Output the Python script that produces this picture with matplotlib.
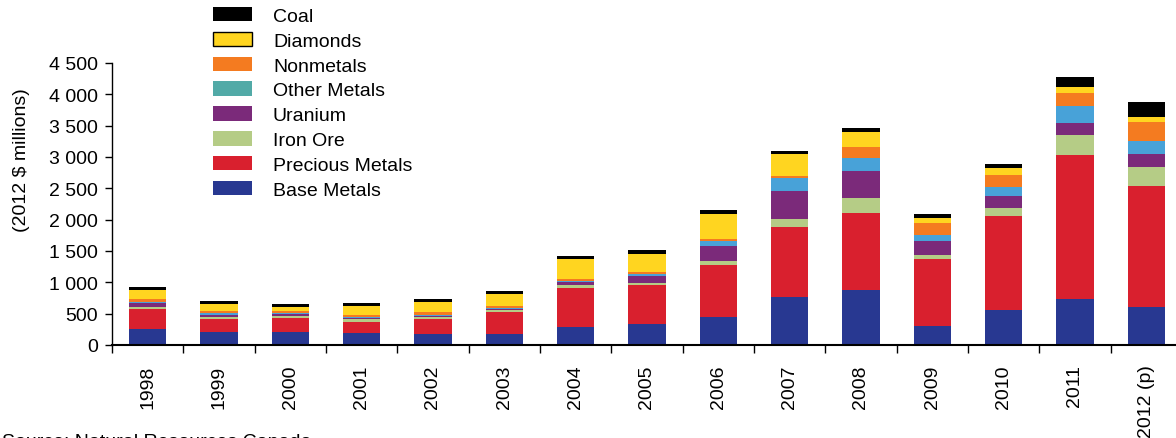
import numpy as np
import matplotlib
matplotlib.use("Agg")
import matplotlib.pyplot as plt
from matplotlib.patches import Patch
from matplotlib.ticker import FuncFormatter, FixedLocator

plt.rcParams['font.family'] = ['Liberation Sans', 'DejaVu Sans']

# data (2012 $ millions)
years = ['1998', '1999', '2000', '2001', '2002', '2003', '2004', '2005',
         '2006', '2007', '2008', '2009', '2010', '2011', '2012 (p)']
base_metals = [263, 200, 200, 184, 168, 168, 292, 340, 452, 766, 878, 303, 559, 734, 606]
precious_metals = [304, 207, 223, 191, 239, 351, 623, 622, 830, 1117, 1229, 1070, 1500, 2298, 1932]
iron_ore = [32, 32, 32, 32, 37, 43, 48, 32, 64, 128, 239, 63, 128, 320, 303]
uranium = [69, 43, 37, 16, 16, 9, 48, 112, 240, 447, 431, 224, 191, 191, 207]
other_metals = [16, 26, 16, 21, 16, 16, 16, 32, 80, 212, 212, 96, 144, 271, 208]
nonmetals = [43, 27, 27, 27, 43, 43, 32, 32, 32, 27, 171, 191, 191, 208, 303]
diamonds = [149, 127, 79, 159, 175, 176, 319, 287, 399, 351, 239, 80, 112, 96, 80]
coal = [43, 48, 48, 48, 48, 48, 48, 64, 64, 48, 64, 64, 64, 159, 239]

series = [
    ('Base Metals', base_metals, '#283891'),
    ('Precious Metals', precious_metals, '#d9202e'),
    ('Iron Ore', iron_ore, '#b5cc86'),
    ('Uranium', uranium, '#7b2a7a'),
    ('Other Metals', other_metals, '#48a2d8'),
    ('Nonmetals', nonmetals, '#f47b20'),
    ('Diamonds', diamonds, '#ffd520'),
    ('Coal', coal, '#000000'),
]
# legend swatch for Other Metals is teal in the original
legend_colors = {'Other Metals': '#52aaa7'}

FS = 14

fig = plt.figure(figsize=(11.76, 4.39), dpi=100)
ax = fig.add_axes([112 / 1176, 93 / 439, 1070 / 1176, 282 / 439])

x = np.arange(len(years))
bottom = np.zeros(len(years))
for name, vals, col in series:
    ax.bar(x, vals, width=0.52, bottom=bottom, color=col, linewidth=0)
    bottom += np.array(vals)

ax.set_xlim(-0.5, len(years) - 0.5)
ax.set_ylim(0, 4500)
ax.set_yticks(np.arange(0, 4501, 500))
ax.yaxis.set_major_formatter(FuncFormatter(lambda v, p: f'{int(v):,}'.replace(',', ' ')))
ax.tick_params(axis='y', direction='out', length=5, width=1, pad=5, labelsize=FS)

# x ticks at category boundaries, labels at centres
bounds = np.arange(-0.5, len(years), 1.0)
ax.xaxis.set_major_locator(FixedLocator(bounds))
ax.set_xticklabels([''] * len(bounds))
ax.set_xticks(x, minor=True)
ax.set_xticklabels(years, minor=True, rotation=90, fontsize=FS)
ax.tick_params(axis='x', which='major', direction='out', length=6, width=1)
ax.tick_params(axis='x', which='minor', length=0, pad=14)

for s in ['top', 'right']:
    ax.spines[s].set_visible(False)
ax.spines['left'].set_linewidth(1)
ax.spines['bottom'].set_linewidth(1.5)

fig.text(22 / 1176, 1 - 160 / 439, '(2012 $ millions)', rotation=90,
         ha='center', va='center', fontsize=FS)

handles = []
for name, vals, col in reversed(series):
    c = legend_colors.get(name, col)
    if name == 'Diamonds':
        handles.append(Patch(facecolor=c, edgecolor='black', linewidth=1, label=name))
    else:
        handles.append(Patch(facecolor=c, edgecolor='none', label=name))
fig.legend(handles=handles, loc='upper left', bbox_to_anchor=(213 / 1176, 1 - 8 / 439),
           frameon=False, fontsize=FS, handlelength=2.0, handleheight=0.77,
           handletextpad=1.08, labelspacing=0.35, borderpad=0, borderaxespad=0)

fig.text(2 / 1176, 1 - 434 / 439, 'Source: Natural Resources Canada', ha='left', va='top',
         fontsize=FS)

fig.savefig('out.png', dpi=100)
